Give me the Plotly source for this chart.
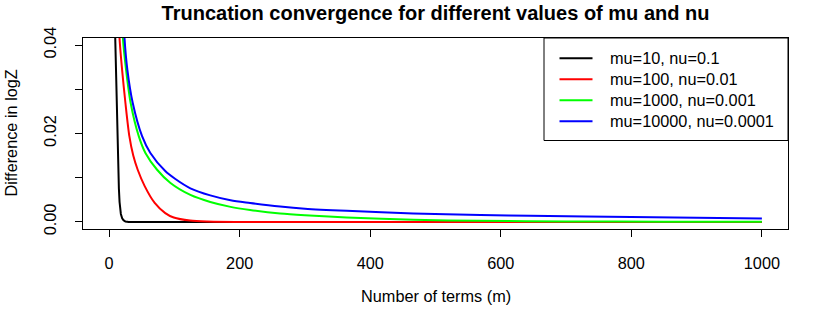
import plotly.graph_objects as go

# ---- data ----
series_names = ["mu=10, nu=0.1", "mu=100, nu=0.01", "mu=1000, nu=0.001", "mu=10000, nu=0.0001"]
series_colors = ["#000000", "#FF0000", "#00FF00", "#0000FF"]

m_black = [8, 9, 10, 11, 12, 13, 14, 15, 16, 17, 18, 20, 22, 25, 30, 50, 100, 200, 400, 600, 800, 1000]
d_black = [0.050, 0.043, 0.036, 0.029, 0.024, 0.0175, 0.0115, 0.0075, 0.0045, 0.0028, 0.0018, 0.0008,
           0.0004, 0.0001, 0.0, 0.0, 0.0, 0.0, 0.0, 0.0, 0.0, 0.0]

m_red = [13, 15.8, 19.9, 25, 31, 37, 43.8, 54.5, 69.8, 86, 99, 124, 150, 200, 300, 500, 700, 1000]
d_red = [0.060, 0.042, 0.0344, 0.0269, 0.0194, 0.0150, 0.0118, 0.0081, 0.0043, 0.0020, 0.0010,
         0.0003, 0.00008, 0.0, 0.0, 0.0, 0.0, 0.0]

m_green = [17, 20.9, 26, 33, 45.4, 55.6, 73.5, 94, 124.5, 155, 186, 216, 262, 300, 364, 466, 569,
           700, 850, 1000]
d_green = [0.060, 0.042, 0.0344, 0.0269, 0.0194, 0.0156, 0.0118, 0.0088, 0.0061, 0.0045, 0.0034,
           0.0027, 0.0019, 0.0015, 0.0010, 0.0005, 0.00025, 0.00012, 0.00006, 0.00003]

m_blue = [19, 23.4, 28, 36.2, 50.5, 63.2, 86, 101.5, 124.5, 155, 186, 216, 262, 300, 364, 466, 569,
          645, 800, 1000]
d_blue = [0.060, 0.042, 0.0344, 0.0269, 0.0194, 0.0156, 0.0115, 0.0097, 0.0076, 0.0060, 0.0049,
          0.0043, 0.0035, 0.0030, 0.0025, 0.0019, 0.00158, 0.00138, 0.0011, 0.0008]

x_ticks = [0, 200, 400, 600, 800, 1000]
y_ticks = [0.0, 0.01, 0.02, 0.03, 0.04]
y_tick_text = ["0.00", "", "0.02", "", "0.04"]

title_text = "Truncation convergence for different values of mu and nu"
x_title = "Number of terms (m)"
y_title = "Difference in logZ"

FONT = "Liberation Sans, Arial, Helvetica, sans-serif"
W, H = 830, 312
L, R, T, B = 83, 42, 38, 83
PW, PH = W - L - R, H - T - B


def px_x(p):
    return (p - L) / PW


def px_y(p):
    return (H - B - p) / PH


fig = go.Figure()
xs = [m_black, m_red, m_green, m_blue]
ys = [d_black, d_red, d_green, d_blue]
for i in range(4):
    fig.add_trace(go.Scatter(
        x=xs[i], y=ys[i], mode="lines", name=series_names[i],
        line=dict(color=series_colors[i], width=2,
                  shape="linear" if i == 0 else "spline", smoothing=0.8),
        showlegend=False, hoverinfo="skip"))

shapes = []
annotations = []
# legend box
shapes.append(dict(type="rect", xref="paper", yref="paper", x0=px_x(544), x1=1.0,
                   y0=px_y(140.5), y1=1.0, line=dict(color="black", width=1), fillcolor="white",
                   layer="below"))
row_y = [58.3, 79.3, 100.3, 121.3]
for i in range(4):
    shapes.append(dict(type="line", xref="paper", yref="paper", x0=px_x(559.5), x1=px_x(592.5),
                       y0=px_y(row_y[i]), y1=px_y(row_y[i]),
                       line=dict(color=series_colors[i], width=2)))
    annotations.append(dict(xref="paper", yref="paper", x=px_x(607.5), y=px_y(row_y[i]),
                            text=series_names[i], showarrow=False, xanchor="left",
                            yanchor="middle", font=dict(family=FONT, size=16.3, color="black")))

annotations.append(dict(xref="paper", yref="paper", x=0.5, y=px_y(296), text=x_title,
                        showarrow=False, xanchor="center", yanchor="middle",
                        font=dict(family=FONT, size=16.3, color="black")))
annotations.append(dict(xref="paper", yref="paper", x=px_x(10), y=0.5, text=y_title,
                        textangle=-90, showarrow=False, xanchor="center", yanchor="middle",
                        font=dict(family=FONT, size=16.3, color="black")))

fig.update_layout(
    width=W, height=H,
    margin=dict(l=L, r=R, t=T, b=B, pad=0),
    paper_bgcolor="white", plot_bgcolor="white",
    font=dict(family=FONT, size=16.3, color="black"),
    title=dict(text="<b>" + title_text + "</b>", x=0.5, xref="paper", xanchor="center",
               y=1 - 13 / H, yref="container", yanchor="middle",
               font=dict(family=FONT, size=20, color="black")),
    shapes=shapes, annotations=annotations,
    xaxis=dict(range=[-40, 1040], tickvals=x_ticks, ticktext=[str(v) for v in x_ticks],
               ticks="outside", ticklen=7, tickwidth=1, tickcolor="black",
               showline=True, mirror=True, linecolor="black", linewidth=1,
               showgrid=False, zeroline=False, ticklabelstandoff=12,
               tickfont=dict(family=FONT, size=16.3, color="black")),
    yaxis=dict(range=[-0.0016, 0.0416], tickvals=y_ticks, ticktext=y_tick_text,
               ticks="outside", ticklen=7, tickwidth=1, tickcolor="black",
               showline=True, mirror=True, linecolor="black", linewidth=1,
               showgrid=False, zeroline=False, tickangle=-90, ticklabelstandoff=12,
               tickfont=dict(family=FONT, size=16.3, color="black")),
)

fig.write_html("out.html", config={"displayModeBar": False},
               post_script="document.body.style.margin='0';document.body.style.padding='0';"
                           "document.body.style.overflow='hidden';")
